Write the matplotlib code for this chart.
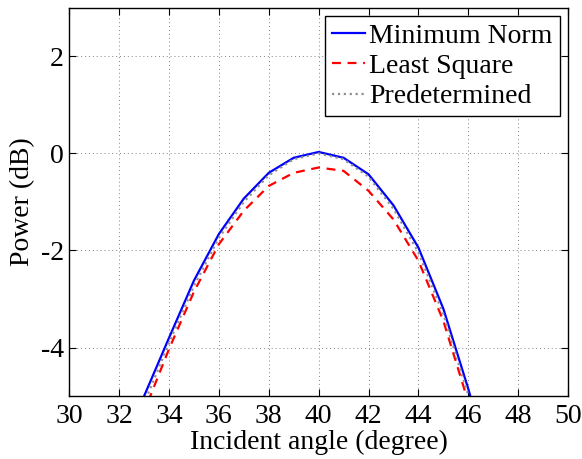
import matplotlib
matplotlib.use("Agg")
import matplotlib.pyplot as plt

angles = [32, 33, 34, 35, 36, 37, 38, 39, 40, 41, 42, 43, 44, 45, 46, 47]
min_norm = [-6.4, -5.0, -3.8, -2.62, -1.66, -0.93, -0.40, -0.09, 0.03, -0.09, -0.43, -1.07, -1.94, -3.2, -4.85, -6.7]
least_sq = [-6.8, -5.32, -4.03, -2.85, -1.87, -1.18, -0.67, -0.40, -0.29, -0.36, -0.77, -1.36, -2.21, -3.45, -5.12, -7.0]
predet = [-6.6, -5.15, -3.9, -2.73, -1.74, -1.0, -0.45, -0.12, 0.0, -0.12, -0.48, -1.14, -2.04, -3.31, -4.98, -6.9]
xticks = [30, 32, 34, 36, 38, 40, 42, 44, 46, 48, 50]
yticks = [-4, -2, 0, 2]

plt.rcParams['font.family'] = ['Liberation Serif', 'DejaVu Serif']

fig = plt.figure(figsize=(5.82, 4.59), dpi=100)
ax = fig.add_axes([0.119, 0.137, 0.857, 0.846])

ax.plot(angles, min_norm, '-', color='#0000ff', lw=1.6, label='Minimum Norm')
ax.plot(angles, least_sq, '--', color='#ff0000', lw=1.6, dashes=(4, 3), label='Least Square')
ax.plot(angles, predet, ':', color='#909090', lw=1.6, label='Predetermined')

ax.set_xlim(30, 50)
ax.set_ylim(-5, 3)
ax.set_xticks(xticks)
ax.set_yticks(yticks)
ax.set_yticklabels([str(v) for v in yticks])
ax.tick_params(direction='in', top=True, right=True, labelsize=20, length=5, width=0.8)
ax.tick_params(axis='x', pad=6)
ax.tick_params(axis='y', pad=4)
ax.grid(True, linestyle=(0, (1, 3)), color='#808080', lw=0.7)
for s in ax.spines.values():
    s.set_linewidth(1.0)

ax.set_xlabel('Incident angle (degree)', fontsize=20, labelpad=0)
ax.set_ylabel('Power (dB)', fontsize=20, labelpad=4)

leg = ax.legend(loc='upper right', fontsize=20, frameon=True, fancybox=False,
                edgecolor='black', framealpha=1, borderpad=0.25, labelspacing=0.18,
                handlelength=1.2, handletextpad=0.15, borderaxespad=0.3)
leg.get_frame().set_linewidth(1.0)

fig.savefig('out.png', dpi=100)
